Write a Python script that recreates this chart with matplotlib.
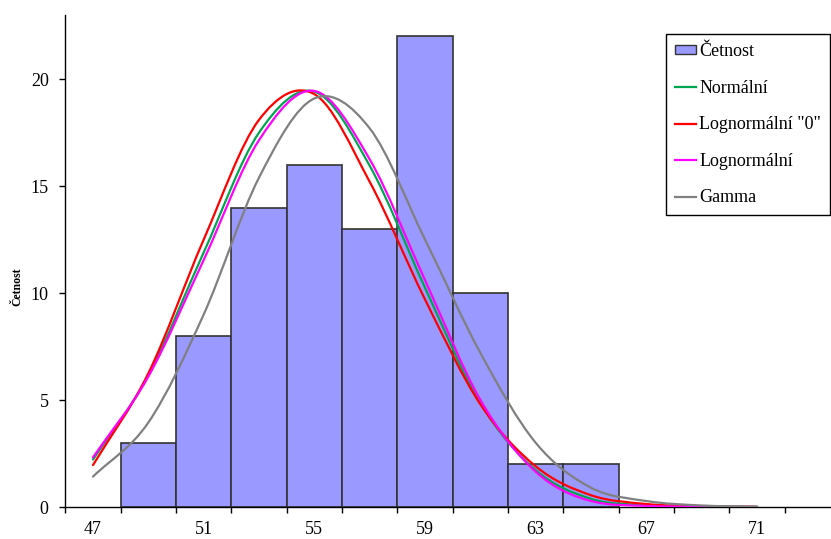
import numpy as np
import matplotlib
matplotlib.use("Agg")
import matplotlib.pyplot as plt
from matplotlib.path import Path
from matplotlib.patches import PathPatch, Patch
from matplotlib.lines import Line2D

plt.rcParams["font.family"] = ["Liberation Serif", "DejaVu Serif"]

# Histogram: class boundaries and frequencies
bin_edges = [48, 50, 52, 54, 56, 58, 60, 62, 64, 66]
counts = [3, 8, 14, 16, 13, 22, 10, 2, 2]

# Fitted curves evaluated at the class points
curve_x = [47, 49, 51, 53, 55, 57, 59, 61, 63, 65, 67, 69, 71]
normal = [2.22, 6.15, 11.9, 17.5, 19.42, 15.95, 10.25, 4.85, 1.72, 0.38, 0.08, 0.01, 0.0]
lognormal0 = [1.96, 6.25, 12.5, 18.1, 19.3, 15.2, 9.7, 4.8, 1.9, 0.55, 0.14, 0.04, 0.01]
lognormal = [2.32, 6.1, 11.55, 17.15, 19.45, 16.25, 10.6, 5.0, 1.65, 0.28, 0.05, 0.01, 0.0]
gamma = [1.42, 3.95, 9.0, 15.4, 19.1, 17.7, 12.5, 7.2, 3.0, 0.9, 0.28, 0.07, 0.02]

series = [
    ("Normální", normal, "#00A550"),
    ('Lognormální "0"', lognormal0, "#FF0000"),
    ("Lognormální", lognormal, "#FF00FF"),
    ("Gamma", gamma, "#808080"),
]

x_labels = [47, 51, 55, 59, 63, 67, 71]
y_ticks = [0, 5, 10, 15, 20]


def smooth_path(xs, ys):
    """Smoothed line: cubic Bezier segments with Catmull-Rom tangents,
    limited on monotone stretches so the tails do not wobble."""
    x = np.asarray(xs, float)
    y = np.asarray(ys, float)
    n = len(x)
    h = np.diff(x)
    d = np.diff(y) / h
    m = np.empty(n)
    m[0], m[-1] = d[0], d[-1]
    m[1:-1] = (y[2:] - y[:-2]) / (x[2:] - x[:-2])
    for i in range(n - 1):
        if d[i] == 0:
            continue
        if i > 0 and d[i - 1] * d[i] <= 0:
            continue
        if i < n - 2 and d[i + 1] * d[i] <= 0:
            continue
        a, b = m[i] / d[i], m[i + 1] / d[i]
        s = a * a + b * b
        if s > 9:
            t = 3 / np.sqrt(s)
            m[i] = t * a * d[i]
            m[i + 1] = t * b * d[i]
    verts = [(x[0], y[0])]
    codes = [Path.MOVETO]
    for i in range(n - 1):
        c1 = (x[i] + h[i] / 3, y[i] + m[i] * h[i] / 3)
        c2 = (x[i + 1] - h[i] / 3, y[i + 1] - m[i + 1] * h[i] / 3)
        verts += [c1, c2, (x[i + 1], y[i + 1])]
        codes += [Path.CURVE4] * 3
    return Path(verts, codes)


W, H = 831, 539
fig = plt.figure(figsize=(W / 100, H / 100), dpi=100)
x0_px, x1_px = 65.33, 831
y_bot_px, y_top_px = 507, 15
ax = fig.add_axes([x0_px / W, 1 - y_bot_px / H, (x1_px - x0_px) / W, (y_bot_px - y_top_px) / H])

ax.bar(bin_edges[:-1], counts, width=np.diff(bin_edges), align="edge",
       color="#9999FF", edgecolor="#333333", linewidth=1.2, zorder=2)

for label, ys, col in series:
    ax.add_patch(PathPatch(smooth_path(curve_x, ys), fill=False, edgecolor=col,
                           linewidth=1.6, zorder=3, capstyle="round"))

ax.set_xlim(46, 73.67)
ax.set_ylim(0, 23)

for s in ("top", "right"):
    ax.spines[s].set_visible(False)
for s in ("left", "bottom"):
    ax.spines[s].set_color("black")
    ax.spines[s].set_linewidth(1.0)

ax.set_xticks(np.arange(46, 73, 2))
ax.set_xticklabels([])
ax.set_xticks(x_labels, minor=True)
ax.set_xticklabels([str(v) for v in x_labels], minor=True)
ax.tick_params(axis="x", which="major", direction="out", length=4, width=1, color="black")
ax.tick_params(axis="x", which="minor", length=0, pad=10, labelsize=13)

ax.set_yticks(y_ticks)
ax.set_yticklabels([str(v) for v in y_ticks])
ax.tick_params(axis="y", which="major", direction="out", length=4, width=1, pad=8, labelsize=13)

fig.text(17.5 / W, 1 - 287 / H, "Četnost", rotation=90, ha="center", va="center",
         fontsize=8.5, fontweight="bold")

handles = [Patch(facecolor="#9999FF", edgecolor="#333333", linewidth=1.0)]
handles += [Line2D([], [], color=col, linewidth=1.6) for _, _, col in series]
labels = ["Četnost"] + [lab for lab, _, _ in series]
leg = fig.legend(handles, labels, loc="upper right", bbox_to_anchor=(830 / W, 1 - 34 / H),
                 fontsize=13, frameon=True, fancybox=False, shadow=False,
                 edgecolor="black", framealpha=1, borderpad=0.5, labelspacing=1.08,
                 handlelength=1.17, handleheight=0.4, handletextpad=0.17, borderaxespad=0)
leg.get_frame().set_linewidth(1.0)

fig.savefig("out.png", dpi=100)
